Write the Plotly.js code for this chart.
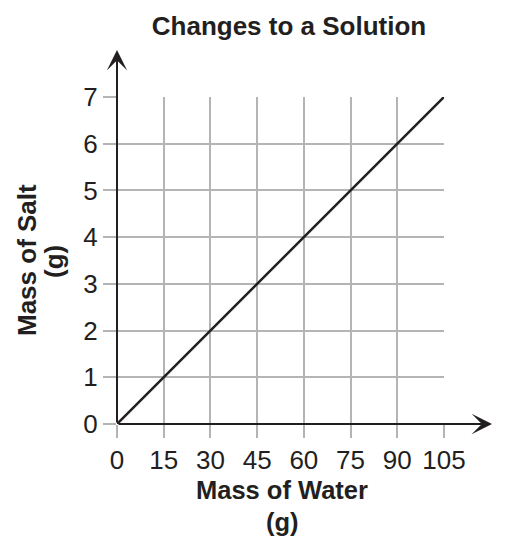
<!DOCTYPE html>
<html>
<head>
<meta charset="utf-8">
<script src="https://cdn.plot.ly/plotly-3.0.1.min.js"></script>
<style>html,body{margin:0;padding:0;background:#fff;}#chart{width:508px;height:545px;}</style>
</head>
<body>
<div id="chart"></div>
<script>
// Data
var massWater = [0, 15, 30, 45, 60, 75, 90, 105];
var massSalt = [0, 1, 2, 3, 4, 5, 6, 7];
var xTickVals = [0, 15, 30, 45, 60, 75, 90, 105];
var xTickText = ['0', '15', '30', '45', '60', '75', '90', '105'];
var yTickVals = [0, 1, 2, 3, 4, 5, 6, 7];
var yTickText = ['0', '1', '2', '3', '4', '5', '6', '7'];
var chartTitle = 'Changes to a Solution';
var xTitleLines = ['Mass of Water', '(g)'];
var yTitleLines = ['Mass of Salt', '(g)'];

var FONT = 'Arial, "Liberation Sans", Helvetica, sans-serif';
var INK = '#231f20';
var GRID = '#b4b4b4';

var trace = {
  x: massWater,
  y: massSalt,
  type: 'scatter',
  mode: 'lines',
  line: {color: INK, width: 2.5},
  cliponaxis: false,
  hoverinfo: 'x+y'
};

var axisCommon = {
  showgrid: true,
  gridcolor: GRID,
  gridwidth: 2,
  zeroline: false,
  showline: false,
  ticks: 'outside',
  ticklen: 13,
  tickwidth: 2,
  tickcolor: GRID,
  tickfont: {family: FONT, size: 26, color: INK},
  fixedrange: true
};

function axisTitle(text, xpx, ypx, angle, size) {
  return {
    xref: 'paper', x: (xpx - 117) / 327, yref: 'paper', y: (424 - ypx) / 327,
    xanchor: 'center', yanchor: 'middle', textangle: angle, borderpad: 0,
    text: '<b>' + text + '</b>', showarrow: false,
    font: {family: FONT, size: size, color: INK}
  };
}

var layout = {
  width: 508,
  height: 545,
  margin: {l: 117, r: 64, t: 97, b: 121},
  paper_bgcolor: '#ffffff',
  plot_bgcolor: '#ffffff',
  showlegend: false,
  title: {
    text: '<b>' + chartTitle + '</b>',
    font: {family: FONT, size: 26, color: INK},
    xref: 'container', x: 289 / 508, xanchor: 'center',
    yref: 'container', y: 1 - 26 / 545, yanchor: 'middle'
  },
  xaxis: Object.assign({}, axisCommon, {
    range: [0, 105],
    tickmode: 'array',
    tickvals: xTickVals,
    ticktext: xTickText
  }),
  yaxis: Object.assign({}, axisCommon, {
    range: [0, 7],
    tickmode: 'array',
    tickvals: yTickVals,
    ticktext: yTickText
  }),
  annotations: [
    // y axis with arrow
    {xref: 'x', x: 0, yref: 'paper', y: (424 - 50) / 327, axref: 'pixel', ayref: 'pixel',
     ax: 0, ay: 374, text: '', showarrow: true, arrowhead: 3, arrowsize: 1.7, arrowwidth: 2, arrowcolor: INK},
    // x axis with arrow
    {xref: 'paper', x: (492 - 117) / 327, yref: 'y', y: 0, axref: 'pixel', ayref: 'pixel',
     ax: -375, ay: 0, text: '', showarrow: true, arrowhead: 3, arrowsize: 1.7, arrowwidth: 2, arrowcolor: INK},
    // x axis title (two lines, tight spacing as in the reference)
    axisTitle(xTitleLines[0], 282, 490, 0, 25.5),
    axisTitle(xTitleLines[1], 282, 522, 0, 25.5),
    // y axis title
    axisTitle(yTitleLines[0], 27, 260, -90, 26),
    axisTitle(yTitleLines[1], 54, 262, -90, 26)
  ]
};

Plotly.newPlot('chart', [trace], layout, {displayModeBar: false, staticPlot: true});
</script>
</body>
</html>
